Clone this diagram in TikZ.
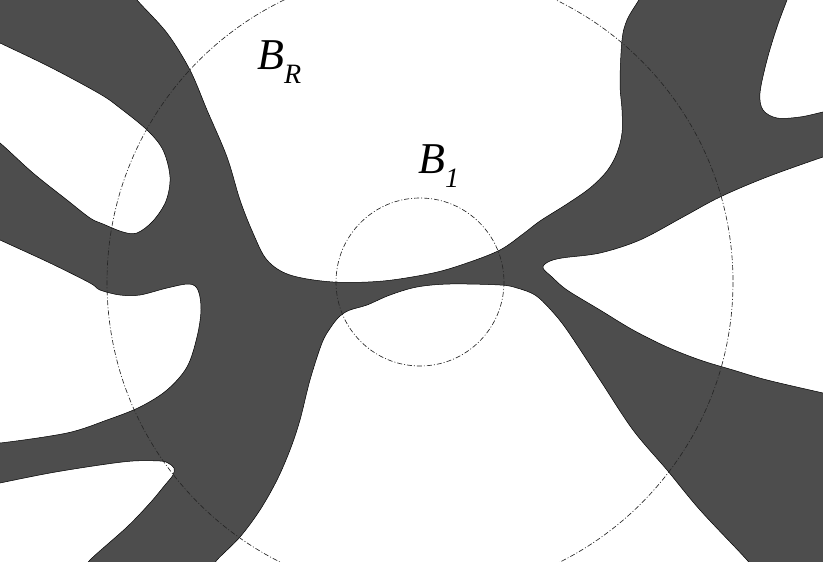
\documentclass[tikz,border=0pt]{standalone}
\usepackage{fontspec}
\setmainfont{Liberation Serif}
\tikzset{
  blob/.style={fill={rgb,255:red,77;green,77;blue,77}, draw=black, line width=0.5pt},
  ballline/.style={draw=black!85, line width=0.65pt, dash pattern=on 5pt off 2pt on 1pt off 2pt},
  lbl/.style={inner sep=0pt, anchor=base west, font=\fontsize{44}{50}\selectfont\itshape}
}
\newcommand{\subl}[1]{\raisebox{-0.33em}{\fontsize{28}{31}\selectfont\itshape #1}}
\begin{document}
\begin{tikzpicture}[x=1pt,y=-1pt]
\useasboundingbox (0,0) rectangle (823,562);
\begin{scope}
\clip (0,0) rectangle (823,562);
\path[blob] (-8,-8) -- (133,-8)
 -- plot[smooth, tension=0.55] coordinates {(133,-8) (137,0) (167,33) (190,70) (207,110) (227,157) (240,200) (253,233) (267,260) (290,275) (333,282) (383,281) (433,273) (467,263) (500,250) (523,234) (540,221) (567,204) (590,188) (607,171) (617,153) (622,133) (622,110) (620,83) (622,40) (627,20) (637,3) (644,-8)}
 -- (790,-8)
 -- plot[smooth, tension=0.55] coordinates {(790,-8) (787,0) (777,27) (767,60) (760,93) (763,110) (777,118) (800,117) (823,112) (832,110)}
 -- (832,155)
 -- plot[smooth, tension=0.55] coordinates {(832,155) (823,157) (767,177) (720,197) (683,217) (640,240) (600,253) (562,258) (548,262) (543,268) (552,277) (567,290) (600,310) (633,330) (667,347) (700,360) (733,370) (767,380) (823,393) (832,395)}
 -- (832,570) -- (753,570)
 -- plot[smooth, tension=0.55] coordinates {(753,570) (747,560) (700,510) (667,470) (633,430) (600,380) (567,330) (550,309) (535,295) (517,288) (500,285) (450,284) (417,287) (390,295) (367,305) (350,310) (340,316) (331,327) (322,343) (310,380) (300,420) (290,450) (277,480) (260,510) (240,537) (217,560) (211,570)}
 -- (85,570)
 -- plot[smooth, tension=0.55] coordinates {(85,570) (90,560) (127,527) (150,503) (165,485) (173,475) (174,468) (168,463) (160,461) (133,461) (100,465) (50,473) (0,483) (-8,485)}
 -- (-8,441)
 -- plot[smooth, tension=0.55] coordinates {(-8,441) (0,443) (67,433) (107,420) (140,407) (167,390) (187,367) (197,337) (201,310) (198,290) (189,284) (167,288) (140,295) (120,295) (100,290) (90,283) (50,263) (0,240) (-8,236)}
 -- (-8,140)
 -- plot[smooth, tension=0.55] coordinates {(-8,140) (0,143) (33,173) (67,200) (90,218) (103,224) (123,232) (137,233) (153,221) (166,201) (170,177) (163,150) (147,130) (120,108) (100,94) (50,67) (0,43) (-8,39)}
 -- cycle;
\coordinate (ctr) at (420,282);
\draw[ballline] (ctr) circle[radius=313];
\draw[ballline] (ctr) circle[radius=84];
\end{scope}
\node[lbl] (br) at (257,69) {B\subl{R}};
\node[lbl] (b1) at (418,173) {B\subl{1}};
\end{tikzpicture}
\end{document}
